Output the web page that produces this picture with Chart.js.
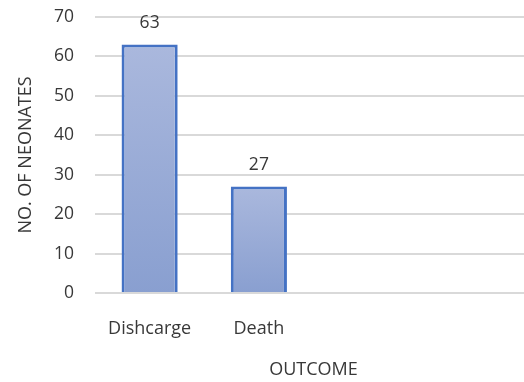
<!DOCTYPE html>
<html>
<head>
<meta charset="utf-8">
<script src="https://cdn.jsdelivr.net/npm/chart.js@4"></script>
<style>
  html, body { margin: 0; padding: 0; background: #fff; overflow: hidden; }
  #wrap { width: 524px; height: 382px; overflow: hidden; position: relative; }
  #box { width: 532px; height: 382px; position: absolute; left: 0; top: 0; }
</style>
</head>
<body>
<div id="wrap"><div id="box"><canvas id="c"></canvas></div></div>
<script>
// Outcome categories (two trailing empty slots keep the plot's spacing)
const categories = ['Dishcarge', 'Death', '', ''];
const neonates = [63, 27, null, null];
const yTicks = [0, 10, 20, 30, 40, 50, 60, 70];

const FONT = "'Open Sans', 'DejaVu Sans', sans-serif";
const TEXT = '#383838';

// vertical gradient per bar, light at the top, deeper at the base
function barFill(ctx) {
  const chart = ctx.chart;
  const v = ctx.raw;
  if (v == null || !chart.chartArea) return '#98AAD6';
  const y = chart.scales.y;
  const top = y.getPixelForValue(v);
  const base = y.getPixelForValue(0);
  const g = chart.ctx.createLinearGradient(0, top, 0, base);
  g.addColorStop(0, '#AAB8DD');
  g.addColorStop(1, '#899FD0');
  return g;
}

const valueLabels = {
  id: 'valueLabels',
  afterDatasetsDraw(chart) {
    const c = chart.ctx;
    const meta = chart.getDatasetMeta(0);
    c.save();
    c.font = '17.5px ' + FONT;
    c.fillStyle = TEXT;
    c.textAlign = 'center';
    c.textBaseline = 'middle';
    meta.data.forEach((el, i) => {
      const v = neonates[i];
      if (v == null) return;
      c.fillText(String(v), el.x, el.y - 22);
    });
    c.restore();
  }
};

new Chart(document.getElementById('c'), {
  type: 'bar',
  data: {
    labels: categories,
    datasets: [{
      data: neonates,
      backgroundColor: barFill,
      borderColor: '#4472C4',
      borderWidth: 3,
      borderSkipped: 'start',
      categoryPercentage: 0.514,
      barPercentage: 1
    }]
  },
  options: {
    responsive: true,
    maintainAspectRatio: false,
    animation: false,
    layout: { padding: { top: 17, left: 0, right: 0, bottom: 0 } },
    plugins: {
      legend: { display: false },
      tooltip: { enabled: false }
    },
    scales: {
      x: {
        grid: { display: false, drawTicks: false },
        border: { display: false },
        ticks: {
          color: TEXT,
          font: { family: FONT, size: 18 },
          padding: 25,
          maxRotation: 0,
          autoSkip: false
        },
        title: {
          display: true,
          text: 'OUTCOME',
          color: TEXT,
          font: { family: FONT, size: 18 },
          padding: { top: 14, bottom: 1 }
        },
        afterFit(s) { s.height = 89; }
      },
      y: {
        min: 0,
        max: 70,
        afterBuildTicks(s) { s.ticks = yTicks.map(v => ({ value: v })); },
        grid: { color: '#D9D9D9', lineWidth: 2, drawTicks: false },
        border: { display: false },
        ticks: {
          color: TEXT,
          font: { family: FONT, size: 17.5 },
          padding: 21
        },
        title: {
          display: true,
          text: 'NO. OF NEONATES',
          color: TEXT,
          font: { family: FONT, size: 18 },
          padding: { top: 15, bottom: 0 }
        },
        afterFit(s) {
          s.width = 95;
          s.paddingTop = 0;
          s.paddingBottom = 0;
        }
      }
    }
  },
  plugins: [valueLabels]
});
</script>
</body>
</html>
